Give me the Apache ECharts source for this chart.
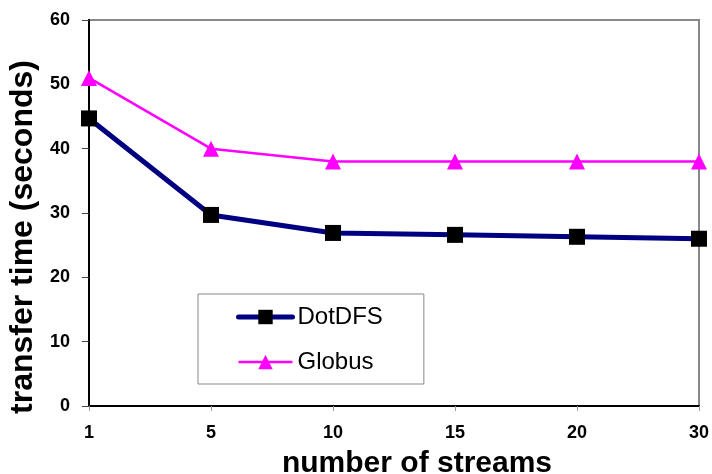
<!DOCTYPE html>
<html>
<head>
<meta charset="utf-8">
<script src="https://cdn.jsdelivr.net/npm/echarts@6/dist/echarts.min.js"></script>
<style>html,body{margin:0;padding:0;background:#fff;}#c{width:712px;height:474px;}</style>
</head>
<body>
<div id="c"></div>
<script>
const categories = ['1', '5', '10', '15', '20', '30'];
const dotdfs = [44.7, 29.7, 26.9, 26.6, 26.3, 26.0];
const globus = [51.0, 40.0, 38.0, 38.0, 38.0, 38.0];
const yTicks = { min: 0, max: 60, interval: 10 };
const xTitle = 'number of streams';
const yTitle = 'transfer time (seconds)';

const font = 'Arial, "Liberation Sans", sans-serif';
const chart = echarts.init(document.getElementById('c'), null, { renderer: 'canvas' });
chart.setOption({
  animation: false,
  backgroundColor: '#fff',
  grid: { left: 89, top: 20, right: 13, bottom: 68, outerBoundsMode: 'none', containLabel: false, show: true, borderColor: '#888', borderWidth: 2, backgroundColor: 'transparent' },
  legend: {
    orient: 'vertical',
    left: 198, top: 294,
    padding: [11, 41, 10, 38],
    itemGap: 21,
    itemWidth: 54, itemHeight: 18,
    borderColor: '#888', borderWidth: 1,
    textStyle: { fontFamily: font, fontSize: 24, color: '#000', lineHeight: 24 },
    data: [
      { name: 'DotDFS', lineStyle: { width: 5, cap: 'round' } },
      { name: 'Globus', lineStyle: { width: 2.5 } }
    ]
  },
  xAxis: {
    type: 'category', data: categories, boundaryGap: false,
    name: xTitle, nameLocation: 'middle', nameGap: 43,
    nameTextStyle: { fontFamily: font, fontSize: 30, fontWeight: 'bold', color: '#000', padding: [0, 0, 0, 46] },
    axisLine: { lineStyle: { color: '#000', width: 2 } },
    axisTick: { show: true, alignWithLabel: true, length: 5, lineStyle: { color: '#999' } },
    axisLabel: { margin: 18, fontFamily: font, fontSize: 18, fontWeight: 'bold', color: '#000' },
    splitLine: { show: false }
  },
  yAxis: {
    type: 'value', min: yTicks.min, max: yTicks.max, interval: yTicks.interval,
    name: yTitle, nameLocation: 'middle', nameGap: 48,
    nameTextStyle: { fontFamily: font, fontSize: 32, fontWeight: 'bold', color: '#000', padding: [0, 48, 0, 0] },
    axisLine: { show: true, lineStyle: { color: '#000', width: 2 } },
    axisTick: { show: true, length: 7, lineStyle: { color: '#444' } },
    axisLabel: { margin: 19, fontFamily: font, fontSize: 18, fontWeight: 'bold', color: '#000' },
    splitLine: { show: false }
  },
  series: [
    {
      name: 'DotDFS', type: 'line', data: dotdfs,
      symbol: 'rect', symbolSize: 16,
      itemStyle: { color: '#000' },
      lineStyle: { color: '#000080', width: 5, cap: 'round' },
      z: 3
    },
    {
      name: 'Globus', type: 'line', data: globus,
      symbol: 'triangle', symbolSize: 16,
      itemStyle: { color: '#ff00ff' },
      lineStyle: { color: '#ff00ff', width: 2.5 },
      z: 2
    }
  ]
});
</script>
</body>
</html>
